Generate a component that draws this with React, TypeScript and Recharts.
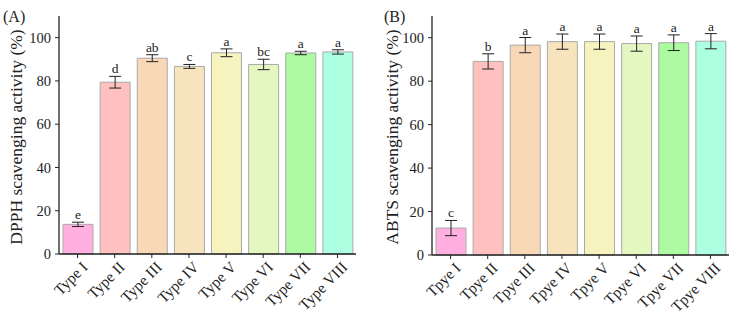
import React from "react";
import {
  BarChart,
  Bar,
  XAxis,
  YAxis,
  ErrorBar,
  Cell,
  LabelList,
} from "recharts";

const dpphTypes = ["Type I", "Type II", "Type III", "Type IV", "Type V", "Type VI", "Type VII", "Type VIII"];
const abtsTypes = ["Tpye I", "Tpye II", "Tpye III", "Tpye IV", "Tpye V", "Tpye VI", "Tpye VII", "Tpye VIII"];

const dpphMean = [13.7, 79.4, 90.5, 86.7, 93.0, 87.6, 92.9, 93.4];
const dpphSd = [1.0, 2.7, 1.6, 0.9, 1.8, 2.4, 0.8, 1.0];
const dpphSig = ["e", "d", "ab", "c", "a", "bc", "a", "a"];

const abtsMean = [12.4, 89.1, 96.6, 98.2, 98.2, 97.3, 97.7, 98.4];
const abtsSd = [3.5, 3.5, 3.5, 3.5, 3.5, 3.5, 3.6, 3.5];
const abtsSig = ["c", "b", "a", "a", "a", "a", "a", "a"];

const barColors = ["#ffb0e0", "#ffc0c0", "#f9d8b8", "#f7e4bf", "#f7f3bf", "#e4f7c0", "#adfaa3", "#adffe2"];

const yTicks = [0, 10, 20, 30, 40, 50, 60, 70, 80, 90, 100];

const FONT = "'Liberation Serif', 'Times New Roman', serif";
const INK = "#222";

type PanelProps = {
  tag: string;
  title: string;
  cats: string[];
  mean: number[];
  sd: number[];
  sig: string[];
  left: number;
  right: number;
  bottom: number;
  titleX: number;
  tagX: number;
};

function YTick(props: any) {
  const { x, y, payload } = props;
  const major = payload.value % 20 === 0;
  return (
    <g>
      <line x1={x} x2={x - (major ? 4 : 2.5)} y1={y} y2={y} stroke={INK} strokeWidth={1} />
      {major && (
        <text x={x - 8} y={y} dy="0.35em" textAnchor="end" fontSize={14.5} fontFamily={FONT} fill={INK}>
          {payload.value}
        </text>
      )}
    </g>
  );
}

function XTick(props: any) {
  const { x, y, payload } = props;
  return (
    <text
      transform={`translate(${x + 11},${y + 10}) rotate(-45)`}
      textAnchor="end"
      fontSize={15.5}
      fontFamily={FONT}
      fill={INK}
    >
      {payload.value}
    </text>
  );
}

function Panel({ tag, title, cats, mean, sd, sig, left, right, bottom, titleX, tagX }: PanelProps) {
  const rows = cats.map((name, i) => ({ name, value: mean[i], err: sd[i], sig: sig[i] }));

  // plot area spans y = 16 .. (318 - bottom - 60) for the 0..110 domain
  const plotBottom = 318 - bottom - 60;
  const sigLabel = (p: any) => {
    const { x, width, index } = p;
    const r = rows[index];
    const yErr = plotBottom - ((r.value + r.err) / 110) * (plotBottom - 16);
    return (
      <text x={x + width / 2} y={yErr - 3} textAnchor="middle" fontSize={13.5} fontFamily={FONT} fill={INK}>
        {r.sig}
      </text>
    );
  };

  const titleLabel = () => (
    <g>
      <text x={tagX} y={22} fontSize={16} fontFamily={FONT} fill={INK}>
        {tag}
      </text>
      <text
        transform={`translate(${titleX},137) rotate(-90)`}
        textAnchor="middle"
        fontSize={17.5}
        fontFamily={FONT}
        fill={INK}
      >
        {title}
      </text>
    </g>
  );

  return (
    <BarChart
      width={368}
      height={318}
      data={rows}
      barSize={30}
      margin={{ top: 16, right, bottom, left }}
    >
      <XAxis
        xAxisId="main"
        dataKey="name"
        height={60}
        interval={0}
        tickSize={4}
        tickMargin={0}
        tick={<XTick />}
        stroke={INK}
        axisLine={{ stroke: INK, strokeWidth: 1.3 }}
        tickLine={{ stroke: INK }}
      />
      <XAxis xAxisId="top" dataKey="name" orientation="top" height={0} tick={false} tickLine={false} axisLine={{ stroke: INK, strokeWidth: 1.3 }} />
      <YAxis
        yAxisId="main"
        domain={[0, 110]}
        ticks={yTicks}
        width={45}
        tickSize={0}
        tickMargin={0}
        tickLine={false}
        tick={<YTick />}
        axisLine={{ stroke: INK, strokeWidth: 1.3 }}
        label={{ content: titleLabel }}
      />
      <YAxis yAxisId="right" orientation="right" domain={[0, 110]} width={0} tick={false} tickLine={false} axisLine={{ stroke: INK, strokeWidth: 1.3 }} />
      <Bar dataKey="value" xAxisId="main" yAxisId="main" stroke="#a9a9a9" strokeWidth={1} isAnimationActive={false}>
        {rows.map((_, i) => (
          <Cell key={i} fill={barColors[i]} />
        ))}
        <ErrorBar dataKey="err" width={6} stroke={INK} strokeWidth={1} direction="y" />
        <LabelList dataKey="sig" content={sigLabel} />
      </Bar>
    </BarChart>
  );
}

export default function App() {
  return (
    <div style={{ position: "absolute", left: 0, top: 0, width: 736, height: 318, background: "#fff", display: "flex" }}>
      <Panel
        tag="(A)"
        title="DPPH scavenging activity (%)"
        cats={dpphTypes}
        mean={dpphMean}
        sd={dpphSd}
        sig={dpphSig}
        left={14}
        right={12}
        bottom={4}
        titleX={22}
        tagX={3}
      />
      <Panel
        tag="(B)"
        title="ABTS scavenging activity (%)"
        cats={abtsTypes}
        mean={abtsMean}
        sd={abtsSd}
        sig={abtsSig}
        left={19}
        right={7}
        bottom={3}
        titleX={30}
        tagX={16}
      />
    </div>
  );
}
